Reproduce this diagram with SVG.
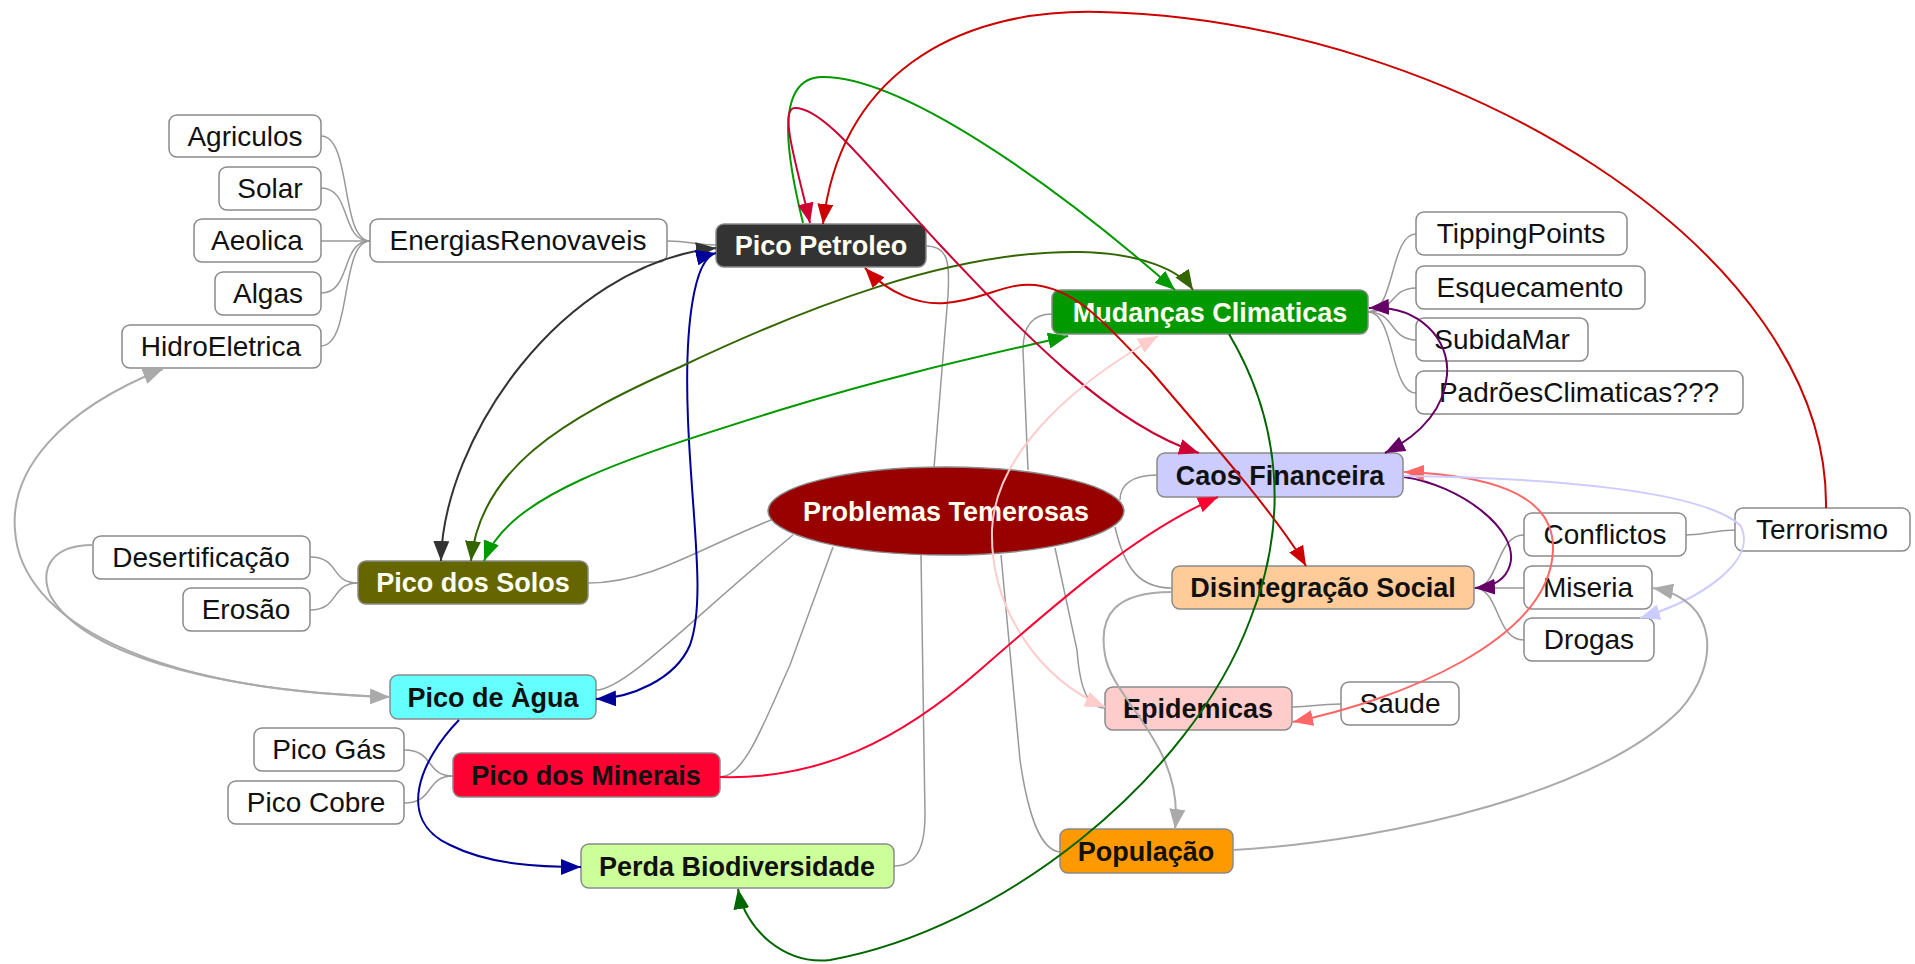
<svg xmlns="http://www.w3.org/2000/svg" width="1915" height="964" viewBox="0 0 1915 964">
<style>
.bx{stroke:#8a8a8a;stroke-width:1.5}
.w{fill:#fff}
.t{font-family:"Liberation Sans",Arial,sans-serif;font-size:28px;fill:#111;text-anchor:middle}
.b{font-family:"Liberation Sans",Arial,sans-serif;font-size:27px;font-weight:bold;text-anchor:middle;fill:#111}
.lt{fill:#fffff0}
.tr{fill:none;stroke:#999;stroke-width:1.5}
.a{fill:none;stroke-width:2}
</style>
<defs>
<marker id="m333" markerUnits="userSpaceOnUse" markerWidth="20" markerHeight="16" refX="20" refY="8" orient="auto-start-reverse"><path d="M0,0L20,8L0,16Z" fill="#333"/></marker>
<marker id="mblu" markerUnits="userSpaceOnUse" markerWidth="20" markerHeight="16" refX="20" refY="8" orient="auto-start-reverse"><path d="M0,0L20,8L0,16Z" fill="#000099"/></marker>
<marker id="mgry" markerUnits="userSpaceOnUse" markerWidth="20" markerHeight="16" refX="20" refY="8" orient="auto-start-reverse"><path d="M0,0L20,8L0,16Z" fill="#aaa"/></marker>
<marker id="moli" markerUnits="userSpaceOnUse" markerWidth="20" markerHeight="16" refX="20" refY="8" orient="auto-start-reverse"><path d="M0,0L20,8L0,16Z" fill="#336600"/></marker>
<marker id="mgrn" markerUnits="userSpaceOnUse" markerWidth="20" markerHeight="16" refX="20" refY="8" orient="auto-start-reverse"><path d="M0,0L20,8L0,16Z" fill="#009900"/></marker>
<marker id="mcri" markerUnits="userSpaceOnUse" markerWidth="20" markerHeight="16" refX="20" refY="8" orient="auto-start-reverse"><path d="M0,0L20,8L0,16Z" fill="#cc0033"/></marker>
<marker id="mred" markerUnits="userSpaceOnUse" markerWidth="20" markerHeight="16" refX="20" refY="8" orient="auto-start-reverse"><path d="M0,0L20,8L0,16Z" fill="#cc0000"/></marker>
<marker id="mpur" markerUnits="userSpaceOnUse" markerWidth="20" markerHeight="16" refX="20" refY="8" orient="auto-start-reverse"><path d="M0,0L20,8L0,16Z" fill="#660066"/></marker>
<marker id="msal" markerUnits="userSpaceOnUse" markerWidth="20" markerHeight="16" refX="20" refY="8" orient="auto-start-reverse"><path d="M0,0L20,8L0,16Z" fill="#ff6666"/></marker>
<marker id="mlav" markerUnits="userSpaceOnUse" markerWidth="20" markerHeight="16" refX="20" refY="8" orient="auto-start-reverse"><path d="M0,0L20,8L0,16Z" fill="#ccccff"/></marker>
<marker id="mpnk" markerUnits="userSpaceOnUse" markerWidth="20" markerHeight="16" refX="20" refY="8" orient="auto-start-reverse"><path d="M0,0L20,8L0,16Z" fill="#ffcccc"/></marker>
<marker id="mdg" markerUnits="userSpaceOnUse" markerWidth="20" markerHeight="16" refX="20" refY="8" orient="auto-start-reverse"><path d="M0,0L20,8L0,16Z" fill="#006600"/></marker>
<marker id="mrp" markerUnits="userSpaceOnUse" markerWidth="20" markerHeight="16" refX="20" refY="8" orient="auto-start-reverse"><path d="M0,0L20,8L0,16Z" fill="#ff0033"/></marker>
</defs>
<rect width="1915" height="964" fill="#fff"/>

<g id="tree-edges">
<path class="tr" d="M321 136C352 136 340 241 370 241"/>
<path class="tr" d="M321 188C352 188 340 241 370 241"/>
<path class="tr" d="M321 241L370 241"/>
<path class="tr" d="M321 293C352 293 340 241 370 241"/>
<path class="tr" d="M321 346C352 346 340 241 370 241"/>
<path class="tr" d="M667 241C690 241 695 245 716 245"/>
<path class="tr" d="M1368 312C1395 312 1390 234 1416 234"/>
<path class="tr" d="M1368 312C1395 312 1390 288 1416 288"/>
<path class="tr" d="M1368 312C1395 312 1390 340 1416 340"/>
<path class="tr" d="M1368 312C1395 312 1390 393 1416 393"/>
<path class="tr" d="M310 557C340 557 330 583 358 583"/>
<path class="tr" d="M310 610C340 610 330 583 358 583"/>
<path class="tr" d="M404 750C435 750 425 776 453 776"/>
<path class="tr" d="M404 803C435 803 425 776 453 776"/>
<path class="tr" d="M1474 588C1500 588 1495 535 1524 535"/>
<path class="tr" d="M1474 588L1524 588"/>
<path class="tr" d="M1474 588C1500 588 1495 640 1524 640"/>
<path class="tr" d="M1686 535C1710 535 1710 530 1735 530"/>
<path class="tr" d="M1292 707C1315 707 1315 704 1341 704"/>
<path class="tr" d="M926 246C948 246 950 262 948 295L934 468"/>
<path class="tr" d="M1052 314C1032 314 1023 326 1023 350L1028 470"/>
<path class="tr" d="M588 583C650 583 700 548 771 520"/>
<path class="tr" d="M596 690C625 690 690 620 793 535"/>
<path class="tr" d="M720 777C745 777 765 720 790 665L833 547"/>
<path class="tr" d="M894 866C915 866 925 850 925 815L921 555"/>
<path class="tr" d="M1060 852C1040 850 1028 815 1020 760L1001 555"/>
<path class="tr" d="M1105 708C1088 708 1080 690 1077 650L1055 548"/>
<path class="tr" d="M1172 588C1140 588 1125 570 1115 527"/>
<path class="tr" d="M1157 475C1132 475 1120 485 1120 500"/>
</g>

<g id="n-agriculos"><rect class="bx w" x="169" y="115" width="152" height="42" rx="8"/><text class="t" x="245" y="146">Agriculos</text></g>
<g id="n-solar"><rect class="bx w" x="219" y="167" width="102" height="43" rx="8"/><text class="t" x="270" y="198">Solar</text></g>
<g id="n-aeolica"><rect class="bx w" x="194" y="219" width="127" height="43" rx="8"/><text class="t" x="257" y="250">Aeolica</text></g>
<g id="n-algas"><rect class="bx w" x="215" y="272" width="106" height="43" rx="8"/><text class="t" x="268" y="303">Algas</text></g>
<g id="n-hidro"><rect class="bx w" x="122" y="325" width="199" height="43" rx="8"/><text class="t" x="221" y="356">HidroEletrica</text></g>
<g id="n-energias"><rect class="bx w" x="370" y="219" width="297" height="43" rx="8"/><text class="t" x="518" y="250">EnergiasRenovaveis</text></g>
<g id="n-tipping"><rect class="bx w" x="1416" y="212" width="211" height="43" rx="8"/><text class="t" x="1521" y="243">TippingPoints</text></g>
<g id="n-esquec"><rect class="bx w" x="1416" y="266" width="229" height="43" rx="8"/><text class="t" x="1530" y="297">Esquecamento</text></g>
<g id="n-subida"><rect class="bx w" x="1416" y="318" width="172" height="43" rx="8"/><text class="t" x="1502" y="349">SubidaMar</text></g>
<g id="n-padroes"><rect class="bx w" x="1416" y="371" width="327" height="43" rx="8"/><text class="t" x="1579" y="402">PadrõesClimaticas???</text></g>
<g id="n-conflictos"><rect class="bx w" x="1524" y="513" width="162" height="43" rx="8"/><text class="t" x="1605" y="544">Conflictos</text></g>
<g id="n-terrorismo"><rect class="bx w" x="1735" y="508" width="175" height="43" rx="8"/><text class="t" x="1822" y="539">Terrorismo</text></g>
<g id="n-miseria"><rect class="bx w" x="1524" y="566" width="128" height="43" rx="8"/><text class="t" x="1588" y="597">Miseria</text></g>
<g id="n-drogas"><rect class="bx w" x="1524" y="618" width="130" height="43" rx="8"/><text class="t" x="1589" y="649">Drogas</text></g>
<g id="n-saude"><rect class="bx w" x="1341" y="682" width="118" height="43" rx="8"/><text class="t" x="1400" y="713">Saude</text></g>
<g id="n-desert"><rect class="bx w" x="93" y="536" width="217" height="43" rx="8"/><text class="t" x="201" y="567">Desertificação</text></g>
<g id="n-erosao"><rect class="bx w" x="183" y="588" width="127" height="43" rx="8"/><text class="t" x="246" y="619">Erosão</text></g>
<g id="n-picogas"><rect class="bx w" x="254" y="728" width="150" height="43" rx="8"/><text class="t" x="329" y="759">Pico Gás</text></g>
<g id="n-picocobre"><rect class="bx w" x="228" y="781" width="176" height="43" rx="8"/><text class="t" x="316" y="812">Pico Cobre</text></g>

<g id="n-petroleo"><rect class="bx" x="716" y="224" width="210" height="43" rx="8" fill="#333"/><text class="b lt" x="821" y="255">Pico Petroleo</text></g>
<g id="n-mudancas"><rect class="bx" x="1052" y="290" width="316" height="44" rx="8" fill="#009900"/><text class="b lt" x="1210" y="322">Mudanças Climaticas</text></g>
<g id="n-caos"><rect class="bx" x="1157" y="453" width="246" height="44" rx="8" fill="#ccccff"/><text class="b" x="1280" y="485">Caos Financeira</text></g>
<g id="n-disint"><rect class="bx" x="1172" y="566" width="302" height="43" rx="8" fill="#ffcc99"/><text class="b" x="1323" y="597">Disintegração Social</text></g>
<g id="n-epidem"><rect class="bx" x="1105" y="687" width="187" height="43" rx="8" fill="#ffcccc"/><text class="b" x="1198" y="718">Epidemicas</text></g>
<g id="n-populacao"><rect class="bx" x="1060" y="829" width="173" height="44" rx="8" fill="#ff9900"/><text class="b" x="1146" y="861">População</text></g>
<g id="n-solos"><rect class="bx" x="358" y="561" width="230" height="43" rx="8" fill="#666600"/><text class="b lt" x="473" y="592">Pico dos Solos</text></g>
<g id="n-agua"><rect class="bx" x="390" y="675" width="206" height="44" rx="8" fill="#66ffff"/><text class="b" x="493" y="707">Pico de Àgua</text></g>
<g id="n-minerais"><rect class="bx" x="453" y="753" width="267" height="44" rx="8" fill="#ff0033"/><text class="b" x="586" y="785">Pico dos Minerais</text></g>
<g id="n-perda"><rect class="bx" x="581" y="844" width="313" height="44" rx="8" fill="#ccff99"/><text class="b" x="737" y="876">Perda Biodiversidade</text></g>
<g id="n-root"><ellipse cx="946" cy="511" rx="178" ry="44" fill="#990000" stroke="#8a8a8a" stroke-width="1.5"/><text class="b lt" x="946" y="521">Problemas Temerosas</text></g>

<g id="connectors">
<path class="a" stroke="#333" marker-start="url(#m333)" marker-end="url(#m333)" d="M441 561C443 440 560 265 716 248"/>
<path class="a" stroke="#000099" marker-start="url(#mblu)" marker-end="url(#mblu)" d="M716 253C695 258 684 320 688 420C692 520 706 600 690 645C675 680 630 698 596 699"/>
<path class="a" stroke="#000099" marker-end="url(#mblu)" d="M459 720C420 760 395 820 450 845C490 865 540 867 581 867"/>
<path class="a" stroke="#aaa" marker-start="url(#mgry)" marker-end="url(#mgry)" d="M163 369C60 410 10 470 15 530C20 620 150 690 390 697"/>
<path class="a" stroke="#aaa" d="M93 545C50 545 40 570 50 595C80 650 200 690 390 697"/>
<path class="a" stroke="#336600" marker-start="url(#moli)" marker-end="url(#moli)" d="M471 561C480 470 560 420 680 367C800 310 950 250 1080 252C1140 253 1180 270 1193 290"/>
<path class="a" stroke="#009900" marker-start="url(#mgrn)" marker-end="url(#mgrn)" d="M484 561C510 495 620 460 780 410C900 373 1000 352 1068 336"/>
<path class="a" stroke="#009900" marker-end="url(#mgrn)" d="M803 223C790 170 770 78 822 77C900 76 1050 180 1175 290"/>
<path class="a" stroke="#cc0033" marker-start="url(#mcri)" marker-end="url(#mcri)" d="M810 223C798 170 778 108 795 108C825 108 870 170 940 245C1020 330 1110 425 1199 453"/>
<path class="a" stroke="#cc0000" marker-end="url(#mred)" d="M1826 508C1830 250 1450 20 1100 12C950 8 840 80 823 224"/>
<path class="a" stroke="#cc0000" marker-start="url(#mred)" marker-end="url(#mred)" d="M865 268C890 295 920 305 945 303C985 300 1005 282 1035 285C1080 290 1110 330 1150 370C1210 440 1280 520 1306 566"/>
<path class="a" stroke="#660066" marker-start="url(#mpur)" marker-end="url(#mpur)" d="M1369 308C1420 305 1450 340 1447 375C1444 410 1420 435 1385 453"/>
<path class="a" stroke="#660066" marker-end="url(#mpur)" d="M1404 477C1460 485 1520 530 1510 565C1505 582 1490 587 1475 588"/>
<path class="a" stroke="#ff6666" marker-start="url(#msal)" marker-end="url(#msal)" d="M1404 472C1480 475 1555 490 1553 550C1550 640 1400 700 1293 722"/>
<path class="a" stroke="#ccccff" marker-end="url(#mlav)" d="M1404 476C1550 478 1700 490 1740 525C1760 560 1700 600 1640 618"/>
<path class="a" stroke="#aaa" marker-end="url(#mgry)" d="M1233 850C1400 840 1600 790 1680 710C1720 665 1720 600 1653 588"/>
<path class="a" stroke="#aaa" marker-end="url(#mgry)" d="M1172 592C1115 592 1098 615 1105 655C1112 700 1185 745 1175 829"/>
<path class="a" stroke="#ffcccc" marker-start="url(#mpnk)" marker-end="url(#mpnk)" d="M1158 336C1080 380 995 450 992 530C990 610 1040 680 1105 707"/>
<path class="a" stroke="#006600" marker-end="url(#mdg)" d="M1229 334C1280 420 1290 520 1250 620C1190 780 1000 930 830 960C785 965 745 930 738 889"/>
<path class="a" stroke="#ff0033" marker-end="url(#mrp)" d="M720 777C820 780 900 740 980 670C1060 600 1140 530 1218 497"/>
</g>
</svg>
